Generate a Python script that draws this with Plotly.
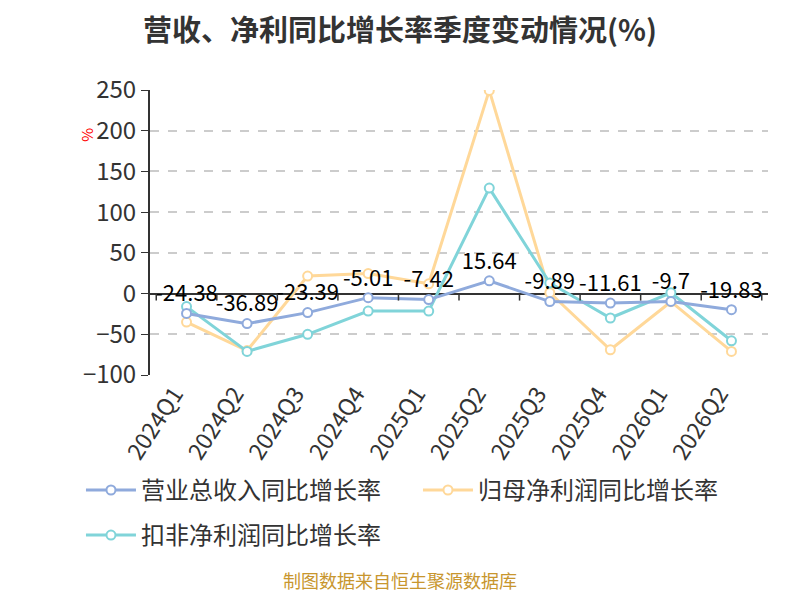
import plotly.graph_objects as go

quarters = ["2024Q1", "2024Q2", "2024Q3", "2024Q4", "2025Q1",
            "2025Q2", "2025Q3", "2025Q4", "2026Q1", "2026Q2"]
revenue_yoy = [-24.38, -36.89, -23.39, -5.01, -7.42, 15.64, -9.89, -11.61, -9.7, -19.83]
net_profit_yoy = [-35, -70, 21.5, 24.5, 12, 249.5, 1, -69, -10, -71]
deducted_profit_yoy = [-16, -71, -50, -21.5, -21.5, 129.5, 13, -30, 1, -58]

# name, values, colour, show labels, legend, rank
series = [
    ("营业总收入同比增长率", revenue_yoy, "#8FAADC", True, "legend", 1),
    ("归母净利润同比增长率", net_profit_yoy, "#FFD899", False, "legend", 2),
    ("扣非净利润同比增长率", deducted_profit_yoy, "#80D4D9", False, "legend2", 3),
]

fig = go.Figure()
# draw the labelled series last so its labels sit on top
for name, vals, color, labelled, leg, rank in [series[1], series[2], series[0]]:
    fig.add_trace(go.Scatter(
        x=quarters, y=vals, name=name,
        mode="lines+markers+text" if labelled else "lines+markers",
        text=[f"{v:g}" for v in vals] if labelled else None,
        textposition="top center",
        textfont=dict(size=22, color="#000"),
        line=dict(color=color, width=3),
        marker=dict(symbol="circle", size=9, color="white",
                    line=dict(color=color, width=2)),
        legend=leg, legendrank=rank,
    ))

# ticks hanging off the zero line between categories
shapes = []
for i in range(len(quarters) + 1):
    shapes.append(dict(type="line", xref="x", yref="y", ysizemode="pixel",
                       yanchor=0, x0=i - 0.5, x1=i - 0.5, y0=0, y1=-7,
                       line=dict(color="#333", width=1.5)))

legend_style = dict(orientation="h", xref="paper", yref="paper",
                    xanchor="left", yanchor="top", itemwidth=50,
                    entrywidth=272, traceorder="normal",
                    font=dict(size=24, color="#333"))

# the page has an 8px body margin, so the figure is 16px smaller than the window
fig.update_layout(
    width=784, height=584,
    margin=dict(l=142, r=24, t=82, b=217, autoexpand=False),
    plot_bgcolor="white", paper_bgcolor="white",
    font=dict(family="Noto Sans CJK SC, Noto Sans, sans-serif", color="#333"),
    title=dict(text="<b>营收、净利同比增长率季度变动情况(%)</b>",
               x=0.5, xanchor="center", y=0.961, yanchor="middle",
               font=dict(size=29, color="#333")),
    showlegend=True,
    legend=dict(legend_style, x=-0.1117, y=-0.326),
    legend2=dict(legend_style, x=-0.1117, y=-0.484),
    shapes=shapes,
    annotations=[
        dict(text="%", xref="paper", yref="paper", x=-0.122, y=0.875,
             showarrow=False, textangle=-90, font=dict(size=15, color="red")),
        dict(text="制图数据来自恒生聚源数据库", xref="paper", yref="paper",
             x=0.4045, xanchor="center", y=-0.719, yanchor="middle", showarrow=False,
             font=dict(size=18, color="#C8962E")),
    ],
)
fig.update_xaxes(type="category", showline=False, ticks="", showgrid=False,
                 automargin=False, tickangle=-57, ticklabelshift=-12,
                 tickfont=dict(size=23, color="#333"))
fig.update_yaxes(range=[-100, 250], dtick=50, showgrid=True, gridcolor="#ccc",
                 griddash="dash", gridwidth=1.5, automargin=False,
                 zeroline=True, zerolinecolor="#333", zerolinewidth=2,
                 showline=True, linecolor="#333", linewidth=2,
                 ticks="outside", ticklen=7, tickcolor="#333",
                 tickfont=dict(size=24, color="#333"))

fig.write_html("out.html")
